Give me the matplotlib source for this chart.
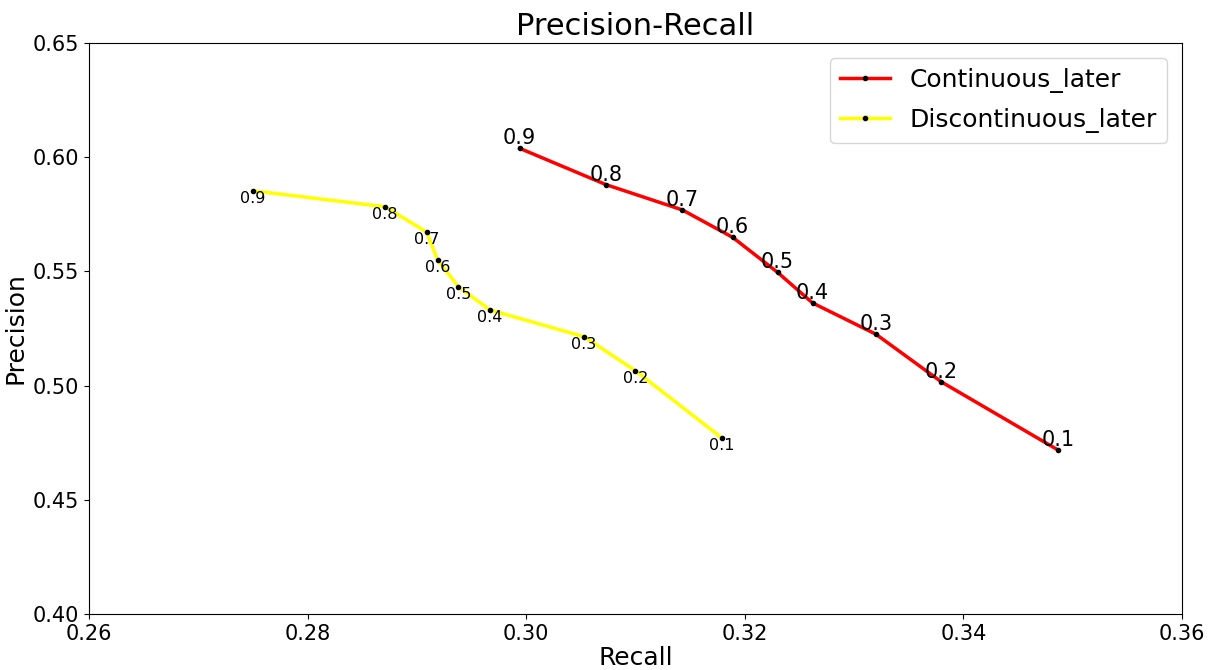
import matplotlib
matplotlib.use("Agg")
import matplotlib.pyplot as plt
import numpy as np

thresholds = [0.1, 0.2, 0.3, 0.4, 0.5, 0.6, 0.7, 0.8, 0.9]

cont_recall = [0.3487, 0.3380, 0.3320, 0.3262, 0.3230, 0.3189, 0.3143, 0.3073, 0.2994]
cont_precision = [0.4717, 0.5016, 0.5225, 0.5362, 0.5496, 0.5649, 0.5769, 0.5880, 0.6039]

disc_recall = [0.3179, 0.3100, 0.3053, 0.2967, 0.2938, 0.2919, 0.2909, 0.2871, 0.2750]
disc_precision = [0.4771, 0.5065, 0.5214, 0.5331, 0.5433, 0.5550, 0.5672, 0.5783, 0.5853]

fig = plt.figure(figsize=(12.14, 6.7), dpi=100)
ax = fig.add_axes([0.0733, 0.0836, 0.9003, 0.8522])

ax.plot(cont_recall, cont_precision, color='red', lw=2.5, marker='.',
        mfc='k', mec='k', ms=6, label='Continuous_later')
ax.plot(disc_recall, disc_precision, color='yellow', lw=2.5, marker='.',
        mfc='k', mec='k', ms=6, label='Discontinuous_later')

for t, x, y in zip(thresholds, cont_recall, cont_precision):
    ax.text(x, y, str(t), fontsize=15, ha='center', va='bottom')
for t, x, y in zip(thresholds, disc_recall, disc_precision):
    ax.text(x, y, str(t), fontsize=11.5, ha='center', va='top')

ax.set_xlim(0.26, 0.36)
ax.set_ylim(0.40, 0.65)
ax.set_xticks(np.arange(0.26, 0.3601, 0.02))
ax.set_yticks(np.arange(0.40, 0.6501, 0.05))
ax.set_xticklabels(['%.2f' % v for v in np.arange(0.26, 0.3601, 0.02)])
ax.set_yticklabels(['%.2f' % v for v in np.arange(0.40, 0.6501, 0.05)])
ax.tick_params(labelsize=15)

ax.set_title('Precision-Recall', fontsize=22)
ax.set_xlabel('Recall', fontsize=18, labelpad=2)
ax.set_ylabel('Precision', fontsize=18)
ax.legend(loc='upper right', fontsize=18, borderaxespad=0.6, labelspacing=0.6)

fig.savefig('out.png', dpi=100)
